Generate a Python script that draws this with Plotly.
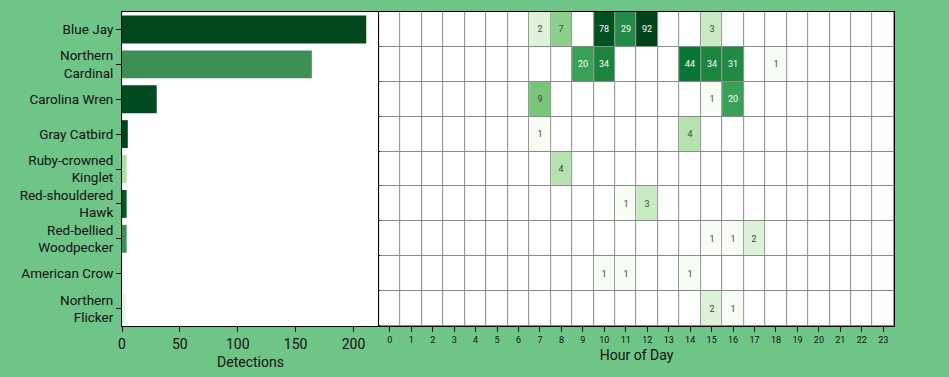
import numpy as np
import plotly.graph_objects as go

species = ["Blue Jay", "Northern<br>Cardinal", "Carolina Wren", "Gray Catbird",
           "Ruby-crowned<br>Kinglet", "Red-shouldered<br>Hawk", "Red-bellied<br>Woodpecker",
           "American Crow", "Northern<br>Flicker"]
hours = list(range(24))

# hourly detections per species: {hour: count}
blue_jay = {7: 2, 8: 7, 10: 78, 11: 29, 12: 92, 15: 3}
northern_cardinal = {9: 20, 10: 34, 14: 44, 15: 34, 16: 31, 18: 1}
carolina_wren = {7: 9, 15: 1, 16: 20}
gray_catbird = {7: 1, 14: 4}
ruby_crowned_kinglet = {8: 4}
red_shouldered_hawk = {11: 1, 12: 3}
red_bellied_woodpecker = {15: 1, 16: 1, 17: 2}
american_crow = {10: 1, 11: 1, 14: 1}
northern_flicker = {15: 2, 16: 1}

rows = [blue_jay, northern_cardinal, carolina_wren, gray_catbird, ruby_crowned_kinglet,
        red_shouldered_hawk, red_bellied_woodpecker, american_crow, northern_flicker]

totals = [sum(r.values()) for r in rows]
bar_colors = ["#00471e", "#3d8f56", "#004a1f", "#00441b", "#b0dcaa",
              "#005a28", "#3c9057", "#ffffff", "#e5f3e0"]

counts = np.array([[r.get(h, 0) for h in hours] for r in rows], dtype=float)
zlog = np.where(counts > 0, np.log10(np.where(counts > 0, counts, 1)), np.nan)
text = [[str(int(v)) if v > 0 else "" for v in row] for row in counts]

greens = [[0.0, "#f7fcf5"], [0.125, "#e5f5e0"], [0.25, "#c7e9c0"], [0.375, "#a1d99b"],
          [0.5, "#74c476"], [0.625, "#41ab5d"], [0.75, "#238b45"], [0.875, "#006d2c"],
          [1.0, "#00441b"]]

fig = go.Figure()
fig.add_trace(go.Bar(x=totals, y=species, orientation="h",
                     marker=dict(color=bar_colors, line=dict(width=0)),
                     xaxis="x", yaxis="y", showlegend=False))
# white background cells
fig.add_trace(go.Heatmap(z=np.zeros_like(counts), x=hours, y=species,
                         colorscale=[[0, "white"], [1, "white"]], showscale=False,
                         xgap=1, ygap=1, xaxis="x2", yaxis="y2", hoverinfo="skip"))
fig.add_trace(go.Heatmap(z=zlog, x=hours, y=species, text=text, texttemplate="%{text}",
                         textfont=dict(size=9, family="Roboto"),
                         colorscale=greens, zmin=0, zmax=float(np.log10(counts.max())),
                         showscale=False, xgap=1, ygap=1, xaxis="x2", yaxis="y2"))

axis_common = dict(showline=True, mirror=True, linecolor="black", linewidth=1,
                   showgrid=False, zeroline=False, automargin=False)
fig.update_layout(
    width=949, height=377,
    margin=dict(l=122, r=55, t=12, b=51),
    paper_bgcolor="#6fc487", plot_bgcolor="#8a8a8a",
    font=dict(family="Roboto", color="#111", size=13),
    xaxis=dict(domain=[0, 0.333], tickvals=[0, 50, 100, 150, 200], ticks="outside",
               ticklen=5, tickcolor="black", tickfont=dict(size=14),
               title=dict(text="Detections", font=dict(size=14), standoff=6), **axis_common),
    yaxis=dict(autorange="reversed", ticks="outside", ticklen=5, tickcolor="black",
               tickfont=dict(size=13.5), **axis_common),
    xaxis2=dict(domain=[0.333, 1], anchor="y2", range=[-0.5, 23.5], tickvals=hours,
                ticks="outside", ticklen=5, tickcolor="black", tickfont=dict(size=9),
                title=dict(text="Hour of Day", font=dict(size=14), standoff=6), **axis_common),
    yaxis2=dict(anchor="x2", autorange="reversed", showticklabels=False, ticks="",
                **axis_common),
)
fig.update_layout(shapes=[dict(type="rect", xref="x domain", yref="y domain",
                               x0=0, x1=1, y0=0, y1=1, fillcolor="white",
                               line=dict(width=0), layer="below")])

fig.write_html("out.html", config={"displayModeBar": False},
               post_script="document.body.style.margin='0';"
                           "document.body.style.background='#6fc487';")
